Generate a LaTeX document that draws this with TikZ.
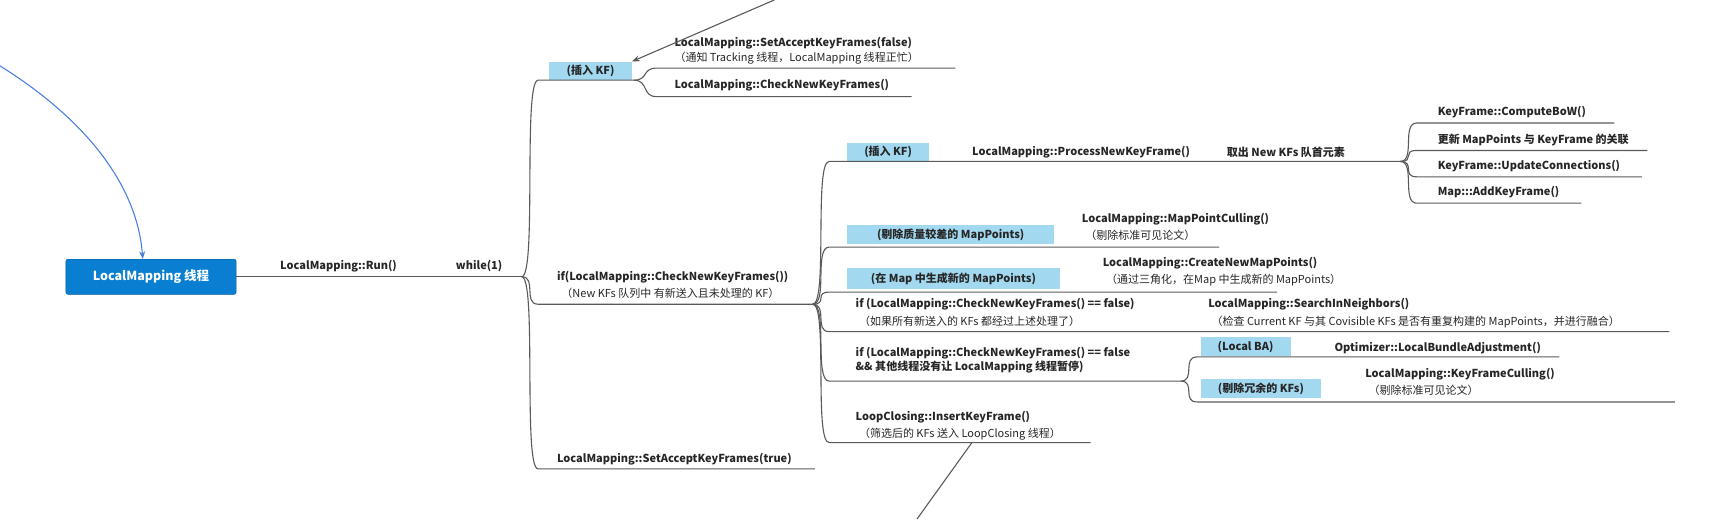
\documentclass[tikz,border=0pt]{standalone}
\usepackage{fontspec}
\usetikzlibrary{arrows.meta}
\setmainfont{Noto Sans CJK SC}
\definecolor{boxc}{HTML}{A3D9F0}
\definecolor{rootc}{HTML}{0A7FD2}
\definecolor{lnc}{HTML}{5A5A5A}
\definecolor{txc}{HTML}{262626}
\definecolor{arc}{HTML}{4A80E0}
\begin{document}
\begin{tikzpicture}[x=1.098pt,y=-1.098pt,
  every node/.style={font=\fontsize{11}{14}\selectfont\color{txc}},
  t/.style={inner sep=0,anchor=west,font=\fontsize{11}{14}\selectfont\bfseries\color{txc}},
  s/.style={inner sep=0,anchor=west,font=\fontsize{11}{14}\selectfont\color{txc}},
  box/.style={fill=boxc,inner sep=0,anchor=north west,font=\fontsize{11}{14}\selectfont\bfseries\color{txc}},
  ln/.style={draw=lnc,line width=1.1pt}]
\useasboundingbox (0,0) rectangle (1568,472.6);
\newcommand\brc[4]{\draw[ln] (#1) .. controls +(14,0) and +(-14,0) .. (#2) -- (#3);}
% root
\node[fill=rootc,draw=rootc!70!black,rounded corners=2pt,minimum width=170.2pt,minimum height=35.1pt,font=\fontsize{12.5}{14}\selectfont\bfseries\color{white}] (root) at (137.5,252) {LocalMapping 线程};
\coordinate (wh) at (475,252);
\draw[ln] (root.east) -- (wh);
\node[t] (run) at (255,242) {LocalMapping::Run()};
\node[t] (while) at (415,242) {while(1)};
% boxes
\node[box,minimum width=82.4pt,minimum height=18.7pt] (kfa) at (500,56) {(插入 KF)};
\node[box,minimum width=82.4pt,minimum height=18.7pt] (kfb) at (771,130) {(插入 KF)};
\node[box,minimum width=207.5pt,minimum height=18.7pt] (cull) at (771,205) {(剔除质量较差的 MapPoints)};
\node[box,minimum width=213pt,minimum height=20.9pt] (cnew) at (771,244) {(在 Map 中生成新的 MapPoints)};
\node[box,minimum width=90pt,minimum height=18.7pt] (lba) at (1093,307) {(Local BA)};
\node[box,minimum width=120.8pt,minimum height=18.7pt] (rkf) at (1093,345) {(剔除冗余的 KFs)};
% level 2 coordinates
\coordinate (a0) at (490,73); \coordinate (a1) at (577,73);
\coordinate (b0) at (490,277); \coordinate (b1) at (740,277);
\coordinate (c0) at (490,427); \coordinate (c1) at (742,427);
\brc{wh}{a0}{a1}{}
\brc{wh}{b0}{b1}{}
\brc{wh}{c0}{c1}{}
\node[t] (ifc) at (507,252) {if(LocalMapping::CheckNewKeyFrames())};
\node[s] (ifc2) at (511,267) {（New KFs 队列中 有新送入且未处理的 KF）};
\node[t] (settrue) at (507,418) {LocalMapping::SetAcceptKeyFrames(true)};
% from kfa
\coordinate (a10) at (598,62); \coordinate (a11) at (870,62);
\coordinate (a20) at (598,88); \coordinate (a21) at (830,88);
\brc{a1}{a10}{a11}{}
\brc{a1}{a20}{a21}{}
\node[t] (saf) at (614,39) {LocalMapping::SetAcceptKeyFrames(false)};
\node[s] (saf2) at (614,53) {（通知 Tracking 线程，LocalMapping 线程正忙）};
\node[t] (cnk) at (614,78) {LocalMapping::CheckNewKeyFrames()};
% from if
\coordinate (d10) at (755,147); \coordinate (d11) at (1275,147);
\coordinate (d20) at (755,225); \coordinate (d21) at (1110,225);
\coordinate (d30) at (755,266); \coordinate (d31) at (1163,266);
\coordinate (d40) at (755,302); \coordinate (d41) at (1520,302);
\coordinate (d50) at (755,347); \coordinate (d51) at (1075,347);
\coordinate (d60) at (755,403); \coordinate (d61) at (993,403);
\foreach \i in {1,...,6}{\brc{b1}{d\i0}{d\i1}{}}
\node[t] (pnk) at (885,139) {LocalMapping::ProcessNewKeyFrame()};
\node[t] (qu) at (1117,139) {取出 New KFs 队首元素};
\node[t] (mpc) at (985,200) {LocalMapping::MapPointCulling()};
\node[s] (mpc2) at (988,214) {（剔除标准可见论文）};
\node[t] (cnm) at (1004,240) {LocalMapping::CreateNewMapPoints()};
\node[s] (cnm2) at (1007,255) {（通过三角化，在Map 中生成新的 MapPoints）};
\node[t] (if2) at (779,277) {if (LocalMapping::CheckNewKeyFrames() == false)};
\node[s] (if22) at (782,293) {（如果所有新送入的 KFs 都经过上述处理了）};
\node[t] (sin) at (1100,277) {LocalMapping::SearchInNeighbors()};
\node[s] (sin2) at (1103,293) {（检查 Current KF 与其 Covisible KFs 是否有重复构建的 MapPoints，并进行融合）};
\node[t,align=left,anchor=north west] (if3) at (779,316) {if (LocalMapping::CheckNewKeyFrames() == false\\\&\& 其他线程没有让 LocalMapping 线程暂停)};
\node[t] (lci) at (779,380) {LoopClosing::InsertKeyFrame()};
\node[s] (lci2) at (782,395) {（筛选后的 KFs 送入 LoopClosing 线程）};
% from process
\coordinate (e10) at (1290,112); \coordinate (e11) at (1470,112);
\coordinate (e20) at (1290,137); \coordinate (e21) at (1500,137);
\coordinate (e30) at (1290,161); \coordinate (e31) at (1495,161);
\coordinate (e40) at (1290,185); \coordinate (e41) at (1440,185);
\foreach \i in {1,...,4}{\brc{d11}{e\i0}{e\i1}{}}
\node[t] (bow) at (1309,102) {KeyFrame::ComputeBoW()};
\node[t] (upd) at (1309,127) {更新 MapPoints 与 KeyFrame 的关联};
\node[t] (ucn) at (1309,151) {KeyFrame::UpdateConnections()};
\node[t] (akf) at (1309,175) {Map:::AddKeyFrame()};
% from if3
\coordinate (f10) at (1090,325); \coordinate (f11) at (1420,325);
\coordinate (f20) at (1090,366); \coordinate (f21) at (1525,366);
\brc{d51}{f10}{f11}{}
\brc{d51}{f20}{f21}{}
\node[t] (oba) at (1215,317) {Optimizer::LocalBundleAdjustment()};
\node[t] (kfc) at (1243,341) {LocalMapping::KeyFrameCulling()};
\node[s] (kfc2) at (1246,355) {（剔除标准可见论文）};
% outside arrows
\coordinate (bl) at (0,60);
\coordinate (rt) at (130,236);
\draw[arc,line width=1.1pt,-{Stealth[length=8pt]}] (bl) .. controls (80,110) and (125,170) .. (rt);
\coordinate (gt) at (705,0);
\draw[lnc,line width=1.1pt,-{Stealth[length=8pt]}] (gt) -- (kfa.north east);
\coordinate (lcb) at (885,403);
\coordinate (gb) at (835,472.6);
\draw[ln] (lcb) -- (gb);
\end{tikzpicture}
\end{document}
